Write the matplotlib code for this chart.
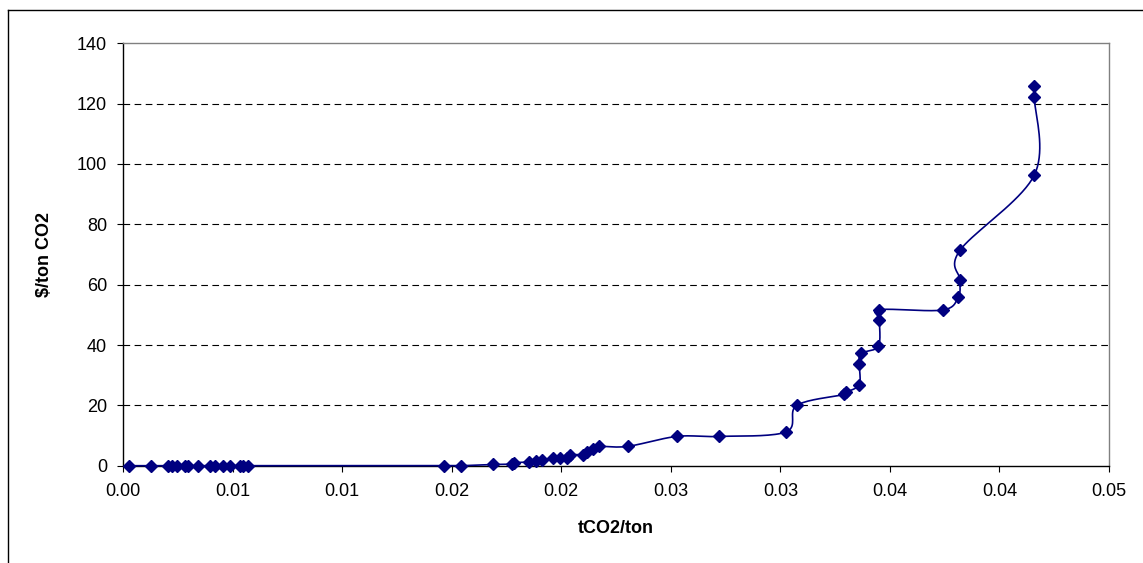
import matplotlib
matplotlib.use("Agg")
import matplotlib.pyplot as plt
from matplotlib.lines import Line2D
import numpy as np

plt.rcParams['font.family'] = ['Liberation Sans', 'DejaVu Sans']

# marginal abatement cost points (tCO2/ton, $/ton CO2)
x_vals = [0.00027, 0.00128, 0.00205, 0.00224, 0.00246, 0.00283, 0.00297, 0.00342,
          0.00397, 0.00420, 0.00456, 0.00488, 0.00534, 0.00548, 0.00570, 0.01465,
          0.01543, 0.01690, 0.01774, 0.01784, 0.01853, 0.01884, 0.01914, 0.01964,
          0.01994, 0.02025, 0.02040, 0.02101, 0.02119, 0.02146, 0.02172, 0.02303,
          0.02527, 0.02721, 0.03026, 0.03075, 0.03291, 0.03298, 0.03360, 0.03360,
          0.03368, 0.03447, 0.03452, 0.03452, 0.03741, 0.03812, 0.03820, 0.03820,
          0.04159, 0.04159, 0.04159]
y_vals = [0, 0, 0, 0, 0, 0, 0, 0,
          0, 0, 0, 0, 0, 0, 0, 0,
          0, 0.4, 0.5, 1.0, 1.2, 1.5, 1.8, 2.6,
          2.6, 2.6, 3.6, 3.7, 4.5, 5.5, 6.4, 6.4,
          9.7, 9.7, 11.2, 20.0, 23.6, 24.3, 26.9, 33.8,
          37.2, 39.6, 48.2, 51.7, 51.6, 56.0, 61.5, 71.4,
          96.3, 122.2, 126.0]

x_ticks = [0.0, 0.005, 0.010, 0.015, 0.020, 0.025, 0.030, 0.035, 0.040, 0.045]
x_tick_labels = ["0.00", "0.01", "0.01", "0.02", "0.02", "0.03", "0.03", "0.04", "0.04", "0.05"]
y_ticks = [0, 20, 40, 60, 80, 100, 120, 140]

W, H = 1143, 563
fig = plt.figure(figsize=(W / 100, H / 100), dpi=100)
ax = fig.add_axes([123 / W, 1 - 465.7 / H, (1109 - 123) / W, (465.7 - 43.3) / H])
ax.set_xlim(0, 0.045)
ax.set_ylim(0, 140)

navy = "#000080"


def smooth_line(xs, ys, steps=20):
    # Excel-like smoothed line: Catmull-Rom bezier computed in pixel space
    pts = ax.transData.transform(np.column_stack([xs, ys]))
    n = len(pts)
    out = [pts[0]]
    t = np.linspace(0, 1, steps)[1:, None]
    for i in range(n - 1):
        p0 = pts[max(i - 1, 0)]
        p1 = pts[i]
        p2 = pts[i + 1]
        p3 = pts[min(i + 2, n - 1)]
        c1 = p1 + (p2 - p0) / 6
        c2 = p2 - (p3 - p1) / 6
        seg = ((1 - t) ** 3) * p1 + 3 * ((1 - t) ** 2) * t * c1 + 3 * (1 - t) * t ** 2 * c2 + t ** 3 * p2
        out.extend(seg)
    out = np.array(out)
    return ax.transData.inverted().transform(out)


curve = smooth_line(x_vals, y_vals)
ax.plot(curve[:, 0], curve[:, 1], color=navy, lw=1.2, zorder=3, clip_on=False)
ax.plot(x_vals, y_vals, linestyle="none", marker="D", ms=6.3, color=navy, zorder=4, clip_on=False)

ax.set_yticks(y_ticks)
ax.set_xticks(x_ticks)
ax.set_xticklabels(x_tick_labels)
for y in y_ticks[1:-1]:
    ax.axhline(y, color="black", lw=0.8, linestyle=(0, (6, 4)), zorder=1)

for s in ["top", "right"]:
    ax.spines[s].set_color("#808080")
    ax.spines[s].set_linewidth(1.0)
for s in ["left", "bottom"]:
    ax.spines[s].set_color("black")
    ax.spines[s].set_linewidth(1.0)

ax.tick_params(axis="both", direction="out", length=4.5, width=0.8, labelsize=13, color="black")
ax.tick_params(axis="y", pad=7)
ax.tick_params(axis="x", pad=8)

ax.set_xlabel("tCO2/ton", fontsize=13, fontweight="bold")
ax.set_ylabel("$/ton CO2", fontsize=13, fontweight="bold")
ax.xaxis.set_label_coords(0.5, -0.128)
ax.yaxis.set_label_coords(-0.071, 0.5)

# outer chart border (cropped at right and bottom)
fig.add_artist(Line2D([8 / W, 1], [1 - 10 / H, 1 - 10 / H], color="black", lw=1.0, transform=fig.transFigure))
fig.add_artist(Line2D([8 / W, 8 / W], [0, 1 - 10 / H], color="black", lw=1.0, transform=fig.transFigure))

fig.savefig("out.png", dpi=100)
